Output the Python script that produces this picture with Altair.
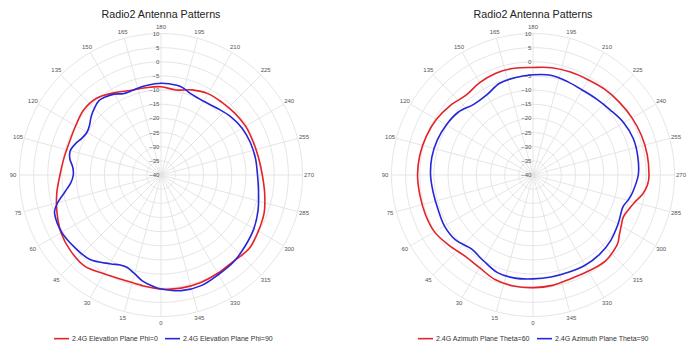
import altair as alt
import pandas as pd

TITLE = "Radio2 Antenna Patterns"
ANGLE_TICKS = [0, 15, 30, 45, 60, 75, 90, 105, 120, 135, 150, 165,
               180, 195, 210, 225, 240, 255, 270, 285, 300, 315, 330, 345]
RING_TICKS = [-40, -35, -30, -25, -20, -15, -10, -5, 0, 5, 10]

LEFT_NAMES = ["2.4G Elevation Plane Phi=0", "2.4G Elevation Plane Phi=90"]
RIGHT_NAMES = ["2.4G Azimuth Plane Theta=60", "2.4G Azimuth Plane Theta=90"]

# Elevation plane, Phi=0 (red)
EL0_ANG = [0, 10, 20, 30, 40, 50, 60, 70, 80, 90, 100, 110, 120, 130, 140, 150, 160, 170,
           180, 190, 200, 210, 220, 230, 240, 250, 260, 270, 280, 290, 300, 310, 320, 330, 340, 350]
EL0_DB = [0.3, -0.4, -0.6, 0.3, 2.0, 1.7, 0.8, -0.9, -2.6, -4.3, -5.2, -5.6, -5.2, -4.3, -4.6, -6.5, -8.2, -8.7,
          -8.8, -9.5, -8.0, -6.8, -6.5, -6.0, -5.5, -5.4, -5.0, -4.2, -2.8, -1.2, -0.3, 0.6, -0.2, 0.1, 0.5, 0.6]

# Elevation plane, Phi=90 (blue)
EL90_ANG = [0, 5, 10, 15, 20, 25, 30, 40, 50, 60, 70, 75, 80, 85, 90, 95, 100, 105, 110, 115, 120, 125,
            130, 135, 140, 145, 150, 155, 160, 165, 170, 180, 190, 195, 200, 210, 220, 230, 240, 250,
            260, 270, 280, 290, 300, 310, 320, 330, 340, 350]
EL90_DB = [0.3, -0.8, -2.0, -3.9, -5.2, -5.0, -3.8, -1.0, -0.2, 0.5, 0.0, -2.2, -5.5, -8.0, -9.0, -8.7, -7.3,
           -6.8, -7.8, -9.2, -9.8, -9.2, -7.8, -6.7, -5.8, -6.2, -7.0, -8.3, -8.5, -8.3, -8.0, -7.6, -7.8,
           -8.4, -9.4, -9.9, -9.2, -7.9, -6.9, -6.4, -6.1, -5.9, -5.0, -3.5, -2.1, -1.1, 0.0, 0.6, 1.6, 1.5]

# Azimuth plane, Theta=60 (red)
AZ60_ANG = [0, 10, 20, 30, 40, 50, 60, 70, 80, 90, 100, 110, 120, 130, 140, 150, 160, 170,
            180, 190, 200, 210, 220, 230, 240, 250, 260, 270, 275, 280, 285, 290, 295, 300, 305,
            310, 320, 330, 340, 350]
AZ60_DB = [-0.2, -0.2, -0.7, -2.2, -2.6, -1.3, 0.2, 0.5, 0.6, 0.8, 0.6, 0.1, -0.6, -1.8, -3.2, -2.3, -1.7,
           -1.7, -2.0, -1.5, -1.3, -1.1, -0.5, -0.1, 0.4, 0.8, 1.0, 1.0, 0.6, -0.7, -2.8, -4.1, -4.8,
           -4.0, -2.8, -1.3, -0.3, -0.8, -1.0, -0.4]

# Azimuth plane, Theta=90 (blue)
AZ90_ANG = [0, 10, 20, 30, 40, 50, 60, 70, 80, 90, 100, 110, 120, 130, 140, 150, 160, 170,
            180, 190, 200, 210, 220, 230, 240, 250, 260, 270, 280, 285, 290, 300, 310, 320, 330, 340, 350]
AZ90_DB = [-3.3, -3.0, -3.3, -5.0, -6.0, -4.3, -3.9, -4.3, -4.2, -3.8, -3.7, -4.0, -4.6, -5.5, -7.4, -7.3,
           -5.5, -5.0, -4.6, -4.2, -4.8, -5.3, -5.0, -4.3, -3.0, -2.3, -2.4, -2.8, -4.3, -5.3, -6.3,
           -5.3, -4.1, -3.4, -3.2, -3.4, -3.4]

RED = "#e4222a"
BLUE = "#2626d9"
GRID = "#e2e2e2"
FONT = "Liberation Sans"

R_MIN = -40.0
PX = 50.0 / 141.5      # dB units per pixel
H = 351

XS = "(datum.db - (%g)) * sin((datum.ang - 180) * PI / 180)" % R_MIN
YS = "(datum.db - (%g)) * cos((datum.ang - 180) * PI / 180)" % R_MIN


def make_panel(names, series, width, cx, legend_x):
    xdom = [-cx * PX, (width - cx) * PX]
    ydom = [-(H - 175) * PX, 175 * PX]
    X = lambda f: alt.X(f, type="quantitative", scale=alt.Scale(domain=xdom, nice=False, zero=False), axis=None)
    Y = lambda f: alt.Y(f, type="quantitative", scale=alt.Scale(domain=ydom, nice=False, zero=False), axis=None)

    # grid rings
    ring_rows = []
    for rv in RING_TICKS[1:]:
        for i, a in enumerate(range(0, 360, 3)):
            ring_rows.append({"ring": rv, "idx": i, "ang": a, "db": rv})
    rings = alt.Chart(pd.DataFrame(ring_rows)).transform_calculate(
        x=XS, y=YS
    ).mark_line(stroke=GRID, strokeWidth=0.9, interpolate="linear-closed").encode(
        x=X("x"), y=Y("y"), detail="ring:N", order="idx:Q"
    )

    # spokes
    spk = pd.DataFrame({"ang": ANGLE_TICKS})
    spk["db"] = RING_TICKS[-1]
    spokes = alt.Chart(spk).transform_calculate(
        x=XS, y=YS, x0="0", y0="0"
    ).mark_rule(stroke=GRID, strokeWidth=0.9).encode(
        x=X("x0"), y=Y("y0"), x2="x:Q", y2="y:Q"
    )

    # ring labels
    rl = pd.DataFrame({"db": RING_TICKS})
    ring_labels = alt.Chart(rl).transform_calculate(
        x="-0.55", y="datum.db - (%g)" % R_MIN, lab="format(datum.db, 'd')"
    ).mark_text(align="right", baseline="middle", fontSize=6, font=FONT, color="#555").encode(
        x=X("x"), y=Y("y"), text="lab:N"
    )

    # angle labels
    al = pd.DataFrame({"ang": ANGLE_TICKS})
    al["db"] = R_MIN + 148 * PX
    ang_labels = alt.Chart(al).transform_calculate(
        x=XS, y=YS, lab="format(datum.ang, 'd')"
    ).mark_text(align="center", baseline="middle", fontSize=6, font=FONT, color="#555").encode(
        x=X("x"), y=Y("y"), text="lab:N"
    )

    # curves
    rows = []
    for name, (angs, dbs) in zip(names, series):
        for i, (a, d) in enumerate(zip(angs, dbs)):
            rows.append({"series": name, "idx": i, "ang": a, "db": d})
    curves = alt.Chart(pd.DataFrame(rows)).transform_calculate(
        x=XS, y=YS
    ).mark_line(strokeWidth=1.6, interpolate="cardinal-closed").encode(
        x=X("x"), y=Y("y"), order="idx:Q",
        color=alt.Color("series:N", scale=alt.Scale(domain=names, range=[RED, BLUE]),
                        legend=alt.Legend(orient="none", legendX=legend_x, legendY=330,
                                          direction="horizontal", title=None,
                                          symbolType="stroke", symbolSize=225,
                                          symbolStrokeWidth=1.6, labelFontSize=7,
                                          labelFont=FONT, labelColor="#333",
                                          labelOffset=2, columnPadding=3, padding=0))
    )

    # title
    tt = pd.DataFrame({"t": [TITLE]})
    title = alt.Chart(tt).transform_calculate(
        x="0", y=str((175 - 15) * PX)
    ).mark_text(align="center", baseline="middle", fontSize=10.7, font=FONT, color="#222").encode(
        x=X("x"), y=Y("y"), text="t:N"
    )

    return alt.layer(rings, spokes, ring_labels, ang_labels, curves, title).properties(
        width=width, height=H
    )


left = make_panel(LEFT_NAMES, [(EL0_ANG, EL0_DB), (EL90_ANG, EL90_DB)], 346, 161, 53)
right = make_panel(RIGHT_NAMES, [(AZ60_ANG, AZ60_DB), (AZ90_ANG, AZ90_DB)], 347, 187, 71)

chart = alt.hconcat(left, right, spacing=0).resolve_scale(
    x="independent", y="independent", color="independent"
).resolve_legend(color="independent").properties(
    padding=0, background="white"
).configure_view(stroke=None)

chart.save("out.html", embed_options={"renderer": "svg", "actions": False})
